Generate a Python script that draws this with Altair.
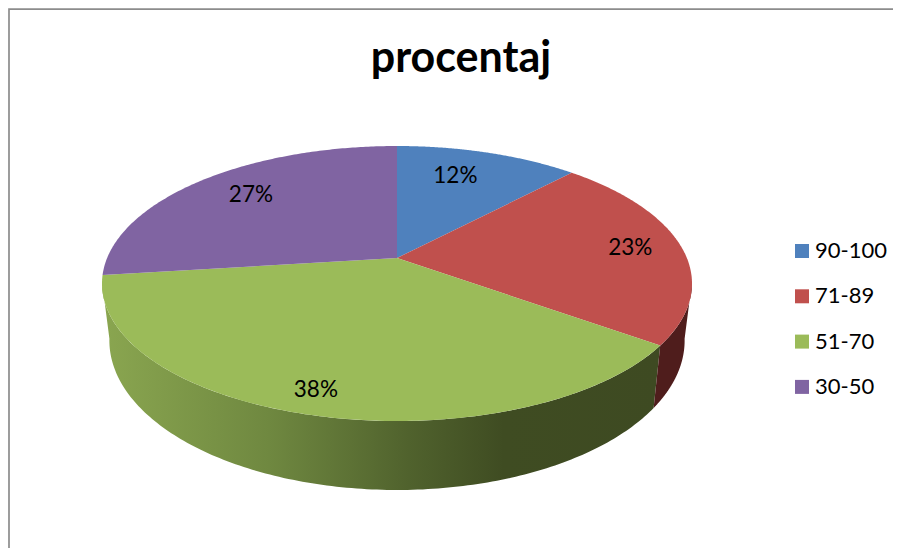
import numpy as np
import altair as alt

CATEGORIES = ["90-100", "71-89", "51-70", "30-50"]
VALUES = [12, 23, 38, 27]
COLORS = ["#4f81bd", "#c0504d", "#9bbb59", "#8064a2"]
LABELS = ["12%", "23%", "38%", "27%"]
LABEL_ANGLE_FRACTION = [0.42, 0.5, 0.51, 0.52]
LABEL_RADIUS = [0.73, 0.82, 0.87, 0.76]
TITLE = "procentaj"

# perspective model of the tilted disc (page pixels)
CX, CY = 397.0, 258.0
UP, DOWN, HALF_W = 112.0, 163.0, 295.0
P = (DOWN - UP) / (DOWN + UP)
B = UP * (1 + P)
A = HALF_W * np.sqrt(1 - P * P)
RIM_SX, RIM_SY, RIM_DY = 0.975, 1.087, 54.8
SILHOUETTE = np.radians(10.0)  # where the disc's widest points sit, past 90 and 270 degrees


def top(theta, r=1.0):
    u, v = r * np.sin(theta), -r * np.cos(theta)
    d = 1 - P * v
    return CX + A * u / d, CY + B * v / d


def rim(theta):
    x, y = top(theta)
    return CX + (x - CX) * RIM_SX, CY + (y - CY) * RIM_SY + RIM_DY


def arc(fn, t0, t1, n=160):
    t = np.linspace(t0, t1, n)
    x, y = fn(t)
    return [(float(a), float(b)) for a, b in zip(x, y)]


def rows(points, name):
    return [{"x": p[0], "y": p[1], "i": k, "name": name} for k, p in enumerate(points)]


edges = np.concatenate([[0], np.cumsum(VALUES)]) / sum(VALUES) * 2 * np.pi

slice_rows = []
for i, name in enumerate(CATEGORIES):
    slice_rows += rows([(CX, CY)] + arc(top, edges[i], edges[i + 1]) + [(CX, CY)], name)


def side(t0, t1, name):
    ring = arc(top, t0, t1) + arc(rim, t1, t0)
    ring.append(ring[0])
    return rows(ring, name)


green_side = side(edges[2], 1.5 * np.pi - SILHOUETTE, "51-70")
red_side = side(0.5 * np.pi + SILHOUETTE, edges[2], "71-89")

label_rows = []
for i, text in enumerate(LABELS):
    th = edges[i] + (edges[i + 1] - edges[i]) * LABEL_ANGLE_FRACTION[i]
    x, y = top(th, LABEL_RADIUS[i])
    label_rows.append({"x": float(x), "y": float(y), "label": text})

border_rows = rows([(893.0, 9.2), (9.0, 9.2), (9.0, 548.0)], "frame")

X = alt.X("x:Q", axis=None, scale=alt.Scale(domain=[8, 893], range=[0, 885], nice=False, zero=False))
Y = alt.Y("y:Q", axis=None, scale=alt.Scale(domain=[8, 548], range=[0, 540], nice=False, zero=False))
ORDER = alt.Order("i:Q")

frame_layer = alt.Chart(alt.Data(values=border_rows)).mark_line(
    stroke="#8c8c8c", strokeWidth=1.7, clip=False
).encode(x=X, y=Y, order=ORDER)

green_layer = alt.Chart(alt.Data(values=green_side)).mark_line(
    strokeWidth=0, stroke=None,
    fill=alt.Gradient(
        gradient="linear", x1=0, x2=1, y1=0, y2=0,
        stops=[
            alt.GradientStop(offset=0.0, color="#8aa650"),
            alt.GradientStop(offset=0.30, color="#6f8840"),
            alt.GradientStop(offset=0.55, color="#50622d"),
            alt.GradientStop(offset=0.72, color="#3f4c22"),
            alt.GradientStop(offset=1.0, color="#3e4a22"),
        ],
    ),
).encode(x=X, y=Y, order=ORDER)

red_layer = alt.Chart(alt.Data(values=red_side)).mark_line(
    strokeWidth=0, stroke=None, fill="#4f1d1c"
).encode(x=X, y=Y, order=ORDER)

top_layer = alt.Chart(alt.Data(values=slice_rows)).mark_line(strokeWidth=0, stroke=None).encode(
    x=X, y=Y, order=ORDER,
    fill=alt.Fill(
        "name:N",
        scale=alt.Scale(domain=CATEGORIES, range=COLORS),
        sort=CATEGORIES,
        legend=alt.Legend(
            title=None, orient="none", legendX=783, legendY=232,
            symbolType="square", symbolSize=196, symbolStrokeWidth=0,
            labelFont="Lato", labelFontSize=22, labelColor="#000000",
            labelLimit=200, labelOffset=2, rowPadding=23.3,
            symbolOpacity=1,
        ),
    ),
)

text_layer = alt.Chart(alt.Data(values=label_rows)).mark_text(
    font="Lato", fontSize=22.5, color="#000000", align="center", baseline="middle"
).encode(x=X, y=Y, text="label:N")

chart = alt.layer(frame_layer, green_layer, red_layer, top_layer, text_layer).properties(
    width=885,
    height=540,
    padding=0,
    autosize=alt.AutoSizeParams(type="none"),
    background="#ffffff",
    title=alt.TitleParams(
        TITLE, font="Lato", fontSize=43, fontWeight="bold", color="#000000",
        anchor="middle", dx=10.5, dy=113, baseline="alphabetic",
    ),
).configure_view(stroke=None)

chart.save("out.html", embed_options={"renderer": "svg", "actions": False})
